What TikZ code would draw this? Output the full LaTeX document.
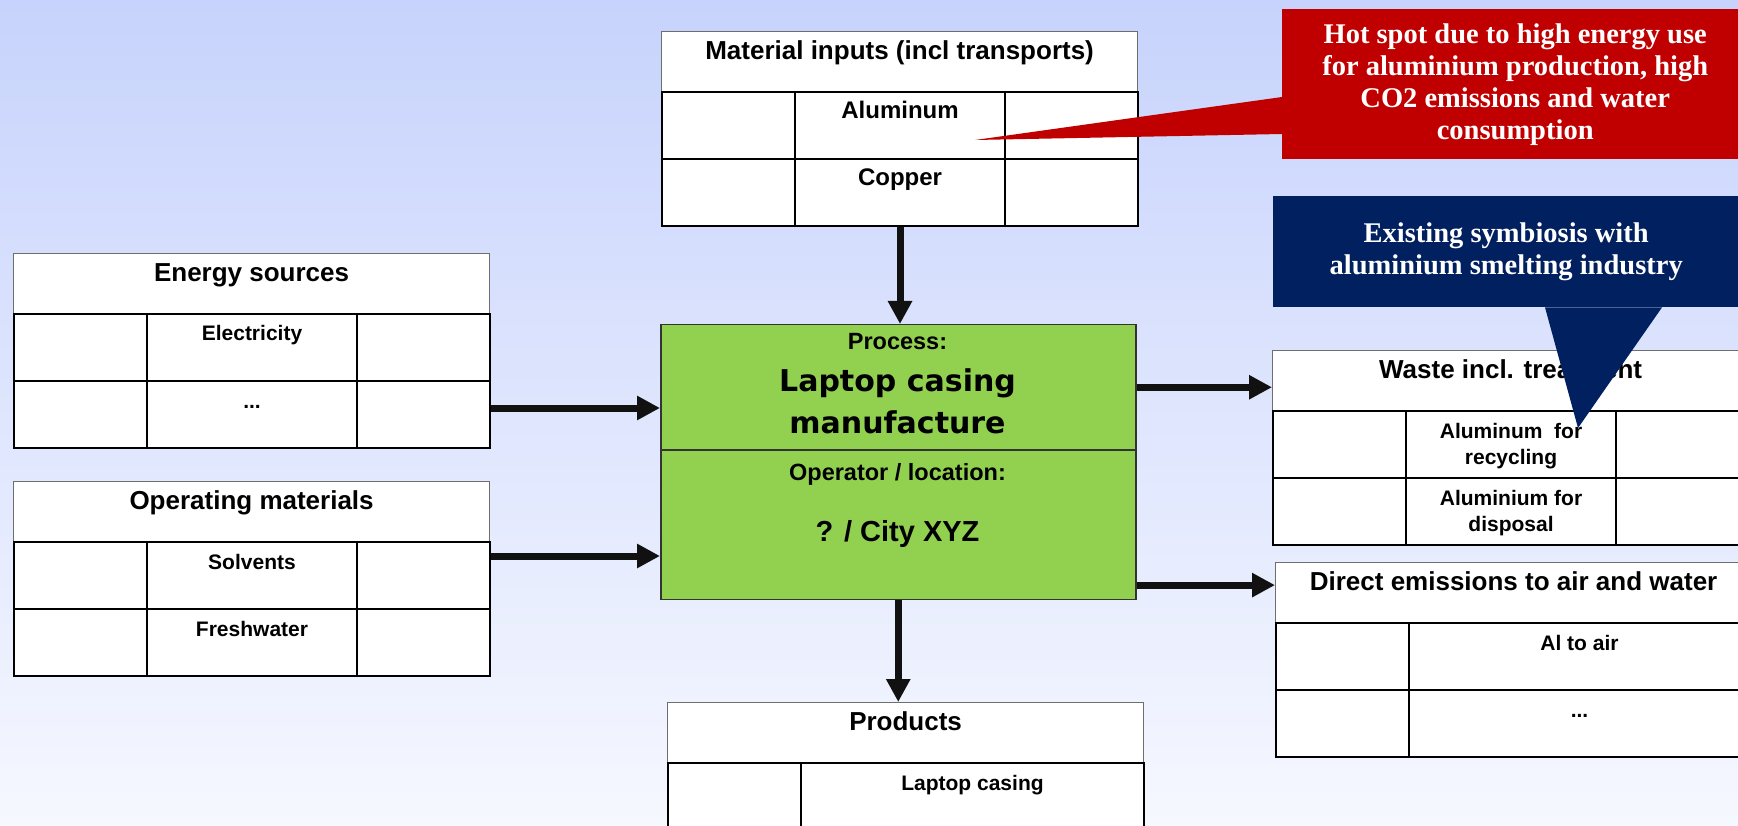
\documentclass[tikz,border=0pt]{standalone}
\usepackage{fontspec}
\setmainfont{Liberation Sans}
\newfontfamily\calloutfont{Liberation Serif}
\newfontfamily\procfont{DejaVu Sans}
\usetikzlibrary{arrows.meta}
\definecolor{bgtop}{RGB}{199,211,252}
\definecolor{bgbot}{RGB}{246,248,255}
\definecolor{hotred}{RGB}{192,0,0}
\definecolor{symblue}{RGB}{0,32,96}
\definecolor{procgreen}{RGB}{146,208,80}
\definecolor{arrowblk}{RGB}{17,17,17}
\definecolor{hdrline}{RGB}{110,110,110}
\begin{document}
\begin{tikzpicture}[x=1pt,y=-1pt,
  hdr/.style={draw=hdrline,line width=1.2pt,fill=white,anchor=north west,inner sep=0pt,minimum width=476pt,minimum height=60pt,text height=28pt,text depth=32pt,font=\fontsize{26}{30}\selectfont\bfseries},
  cell/.style={draw=black,line width=2pt,fill=white,anchor=north west,inner sep=0pt,minimum height=67pt,text height=27pt,text depth=40pt,font=\fontsize{21}{26}\selectfont\bfseries},
  sidecell/.style={cell,minimum width=133pt},
  midcell/.style={cell,minimum width=210pt},
  bigtxt/.style={font=\fontsize{24}{28}\selectfont\bfseries},
  procbox/.style={draw=black!80,line width=1.5pt,fill=procgreen,anchor=north west,minimum width=475pt},
  proctxt/.style={anchor=base,font=\fontsize{23.5}{28}\selectfont\bfseries},
  procname/.style={anchor=base,font=\procfont\fontsize{30}{36}\selectfont\bfseries},
  notebox/.style={anchor=north west,inner sep=0pt,minimum width=466pt,text=white,align=center,font=\calloutfont\fontsize{28.5}{32}\selectfont\bfseries},
  flow/.style={line width=7pt,draw=arrowblk,-{Triangle[length=23pt,width=23pt]}}]
\clip (0,0) rectangle (1738,826);
\shade[top color=bgtop,bottom color=bgbot] (0,0) rectangle (1738,826);

\node[hdr] (mat) at (661,31) {Material inputs (incl transports)};
\node[sidecell] (mat11) at (661,91) {};
\node[midcell,bigtxt] (mat12) at (794,91) {Aluminum};
\node[sidecell] (mat13) at (1004,91) {};
\node[sidecell] (mat21) at (661,158) {};
\node[midcell,bigtxt] (mat22) at (794,158) {Copper};
\node[sidecell] (mat23) at (1004,158) {};

\node[hdr] (en) at (13,253) {Energy sources};
\node[sidecell] (en11) at (13,313) {};
\node[midcell] (en12) at (146,313) {Electricity};
\node[sidecell] (en13) at (356,313) {};
\node[sidecell] (en21) at (13,380) {};
\node[midcell] (en22) at (146,380) {...};
\node[sidecell] (en23) at (356,380) {};

\node[hdr] (op) at (13,481) {Operating materials};
\node[sidecell] (op11) at (13,541) {};
\node[midcell] (op12) at (146,541) {Solvents};
\node[sidecell] (op13) at (356,541) {};
\node[sidecell] (op21) at (13,608) {};
\node[midcell] (op22) at (146,608) {Freshwater};
\node[sidecell] (op23) at (356,608) {};

\node[procbox,minimum height=125pt] (proc) at (660,324) {};
\node[procbox,minimum height=149.5pt] (oper) at (660,449) {};
\node[proctxt] (proclbl) at (897.5,349) {Process:};
\node[procname] (procnm1) at (897.5,391) {Laptop casing};
\node[procname] (procnm2) at (897.5,433) {manufacture};
\node[proctxt] (operlbl) at (897.5,480) {Operator / location:};
\node[proctxt,font=\fontsize{29}{34}\selectfont\bfseries] (operval) at (897.5,541) {? / City XYZ};

\node[hdr] (wst) at (1272,350) {Waste incl. treatment};
\node[sidecell] (wst11) at (1272,410) {};
\node[midcell] (wst12) at (1405,410) {\begin{tabular}[t]{@{}c@{}}Aluminum\ \ for\\recycling\end{tabular}};
\node[sidecell] (wst13) at (1615,410) {};
\node[sidecell] (wst21) at (1272,477) {};
\node[midcell] (wst22) at (1405,477) {\begin{tabular}[t]{@{}c@{}}Aluminium for\\disposal\end{tabular}};
\node[sidecell] (wst23) at (1615,477) {};

\node[hdr] (ems) at (1275,562) {Direct emissions to air and water};
\node[sidecell] (ems11) at (1275,622) {};
\node[cell,minimum width=341pt] (ems12) at (1408,622) {Al to air};
\node[sidecell] (ems21) at (1275,689) {};
\node[cell,minimum width=341pt] (ems22) at (1408,689) {...};

\node[hdr] (prd) at (667,702) {Products};
\node[sidecell] (prd11) at (667,762) {};
\node[cell,minimum width=343pt] (prd12) at (800,762) {Laptop casing};

\draw[flow] (mat22.south) -- (mat22.south |- proc.north);
\draw[flow] ([yshift=6.5pt]en23.east) -- ([yshift=6.5pt]en23.east -| proc.west);
\draw[flow] ([yshift=19.5pt]op13.east) -- ([yshift=19.5pt]op13.east -| oper.west);
\draw[flow] (proc.east) -- (proc.east -| wst.west);
\draw[flow] ([yshift=7.5pt]ems.west -| oper.east) -- ([yshift=7.5pt]ems.west);
\draw[flow] (oper.south) -- (oper.south |- prd.north);

\node[notebox,fill=hotred,minimum height=150pt] (hot) at (1282,9) {Hot spot due to high energy use\\for aluminium production, high\\CO2 emissions and water\\consumption};
\coordinate (hottip) at (975,140);
\fill[hotred] (hot.west |- 0,97) -- (hottip) -- (hot.west |- 0,134) -- cycle;

\node[notebox,fill=symblue,minimum height=111pt] (sym) at (1273,196) {Existing symbiosis with\\aluminium smelting industry};
\coordinate (symtip) at (1578,428);
\fill[symblue] (sym.south -| 1545,0) -- (symtip) -- (sym.south -| 1662,0) -- cycle;
\end{tikzpicture}
\end{document}
